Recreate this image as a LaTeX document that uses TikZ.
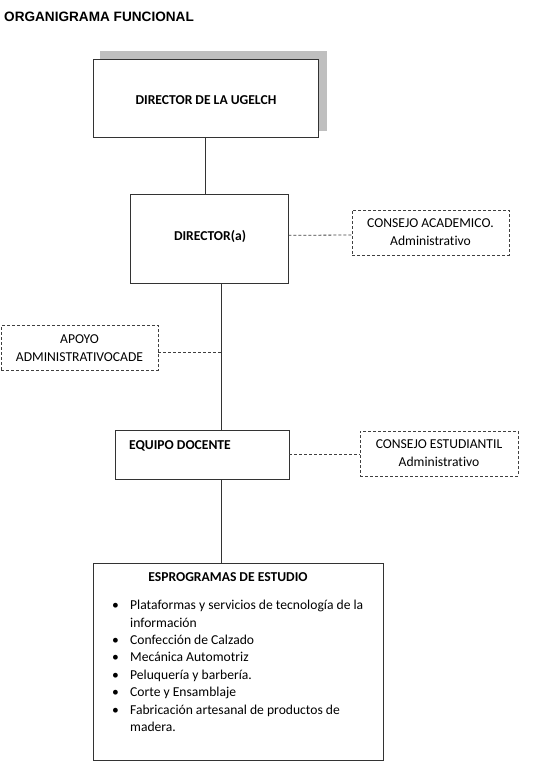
\documentclass[tikz,border=0pt]{standalone}
\usepackage{fontspec}
\setmainfont[Ligatures={NoCommon}]{Carlito}
\newfontfamily\titlefont{Liberation Sans}
\begin{document}
\begin{tikzpicture}[x=1pt,y=-1pt,
  linecol/.style={draw=black!80, line width=0.9pt},
  solidbox/.style={linecol, fill=white, rectangle, inner sep=0pt},
  dashbox/.style={draw=black!75, line width=0.8pt, dash pattern=on 3pt off 2pt, rectangle, inner sep=0pt, align=center, font=\fontsize{13.6}{18}\selectfont},
  dashlink/.style={draw=black!75, line width=0.8pt, dash pattern=on 3pt off 2pt},
  boldlabel/.style={font=\bfseries\fontsize{13.6}{16}\selectfont, inner sep=0pt}
]
\useasboundingbox (0,0) rectangle (542,771);
% title
\node[anchor=west, inner sep=0pt, font=\titlefont\bfseries\fontsize{13.6}{16}\selectfont] (title) at (4,17) {ORGANIGRAMA FUNCIONAL};
% top box with shadow
\fill[black!25] (100,51) rectangle (326.7,130.7);
\node[solidbox, minimum width=225pt, minimum height=78.4pt] (ugel) at (205.8,98.5) {};
\node[boldlabel] (ugeltext) at (206,100.5) {DIRECTOR DE LA UGELCH};
% director
\node[solidbox, minimum width=157.3pt, minimum height=89.7pt] (dir) at (209.3,238.8) {};
\node[boldlabel] (dirtext) at (210,236.5) {DIRECTOR(a)};
\draw[linecol] (ugel.south) -- (ugel.south |- dir.north);
% consejo academico
\node[dashbox, minimum width=157pt, minimum height=45pt] (ca) at (430.5,232.5) {CONSEJO ACADEMICO.\\Administrativo};
\draw[dashlink] ([yshift=3.5pt]dir.east) -- ([yshift=-2.5pt]ca.west);
% apoyo
\node[dashbox, minimum width=157pt, minimum height=44.5pt] (apoyo) at (79.5,348) {APOYO\\ADMINISTRATIVOCADE};
% equipo docente
\node[solidbox, minimum width=173.4pt, minimum height=49pt] (equipo) at (202.3,454.5) {};
\node[boldlabel, anchor=west] (eqtext) at (129,446) {EQUIPO DOCENTE};
\coordinate (j1) at (221,352);
\draw[linecol] (dir.south -| j1) -- (equipo.north -| j1);
\draw[dashlink] ([yshift=-4pt]apoyo.east) -- (j1);
% consejo estudiantil
\node[dashbox, minimum width=158pt, minimum height=45pt] (ce) at (439,453.5) {CONSEJO ESTUDIANTIL\\Administrativo};
\draw[dashlink] (equipo.east) -- (equipo.east -| ce.west);
% programas
\node[solidbox, minimum width=290pt, minimum height=196.7pt] (prog) at (238.3,661.7) {};
\draw[linecol] (equipo.south -| j1) -- (prog.north -| j1);
\node[boldlabel] (progtitle) at (228,577) {ESPROGRAMAS DE ESTUDIO};
\node[anchor=north west, inner sep=0pt, align=left, font=\fontsize{13.6}{17.4}\selectfont] (list) at (112,600) {%
\makebox[18pt][l]{\textbullet}Plataformas y servicios de tecnología de la\\
\makebox[18pt][l]{}información\\
\makebox[18pt][l]{\textbullet}Confección de Calzado\\
\makebox[18pt][l]{\textbullet}Mecánica Automotriz\\
\makebox[18pt][l]{\textbullet}Peluquería y barbería.\\
\makebox[18pt][l]{\textbullet}Corte y Ensamblaje\\
\makebox[18pt][l]{\textbullet}Fabricación artesanal de productos de\\
\makebox[18pt][l]{}madera.};
\end{tikzpicture}
\end{document}
